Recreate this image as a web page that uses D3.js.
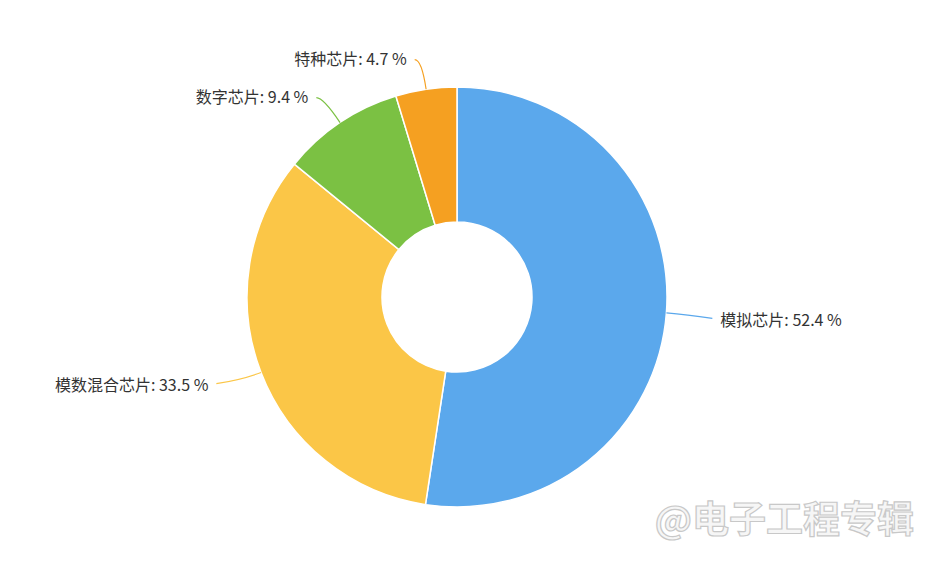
<!DOCTYPE html>
<html><head><meta charset="utf-8">
<script src="https://cdn.jsdelivr.net/npm/d3@7"></script>
<style>body{margin:0;background:#fff}</style></head>
<body><svg id="c" width="925" height="567"></svg>
<script>
const categories = ["模拟芯片","模数混合芯片","数字芯片","特种芯片"];
const values = [52.4, 33.5, 9.4, 4.7];
const colors = ["#5ba8ec","#fbc647","#7bc143","#f5a021"];
const svg = d3.select("#c");
const cx=457, cy=297, R=210, r0=75;
const g = svg.append("g").attr("transform",`translate(${cx},${cy})`);
const pie = d3.pie().sort(null).value(d=>d.v);
const data = pie(categories.map((c,i)=>({c,v:values[i],col:colors[i]})));
const arc = d3.arc().innerRadius(r0).outerRadius(R);
g.selectAll("path.s").data(data).join("path").attr("class","s")
 .attr("d",arc).attr("fill",d=>d.data.col).attr("stroke","#fff").attr("stroke-width",1.5);
const pt=(a,rr)=>[rr*Math.sin(a), -rr*Math.cos(a)];
data.forEach(d=>{
  const a=(d.startAngle+d.endAngle)/2;
  const big=d.data.v>=15;
  const p0=pt(a,R), p1=pt(a,R+(big?20:30));
  const side=Math.sin(a)>=0?1:-1;
  const p2=[p1[0]+side*(big?26:7), p1[1]+(big?4:0)];
  g.append("path").attr("d",`M${p0[0]},${p0[1]}Q${p1[0]},${p1[1]} ${p2[0]},${p2[1]}`)
   .attr("fill","none").attr("stroke",d.data.col).attr("stroke-width",1.2);
  g.append("text").attr("x",p2[0]+side*8).attr("y",p2[1]+(big?2:0)).attr("dy","0.35em")
   .attr("text-anchor",side>0?"start":"end")
   .attr("font-family","Noto Sans CJK SC, sans-serif").attr("font-size",16).attr("fill","#333")
   .text(`${d.data.c}: ${d.data.v} %`);
});
svg.append("text").attr("x",914).attr("y",533).attr("text-anchor","end")
 .attr("font-family","Noto Sans CJK SC, sans-serif").attr("font-size",37).attr("font-weight","bold")
 .attr("fill","#f6f6f6").attr("stroke","#c8c8c8").attr("stroke-width",1.2).text("@电子工程专辑");
</script></body></html>
